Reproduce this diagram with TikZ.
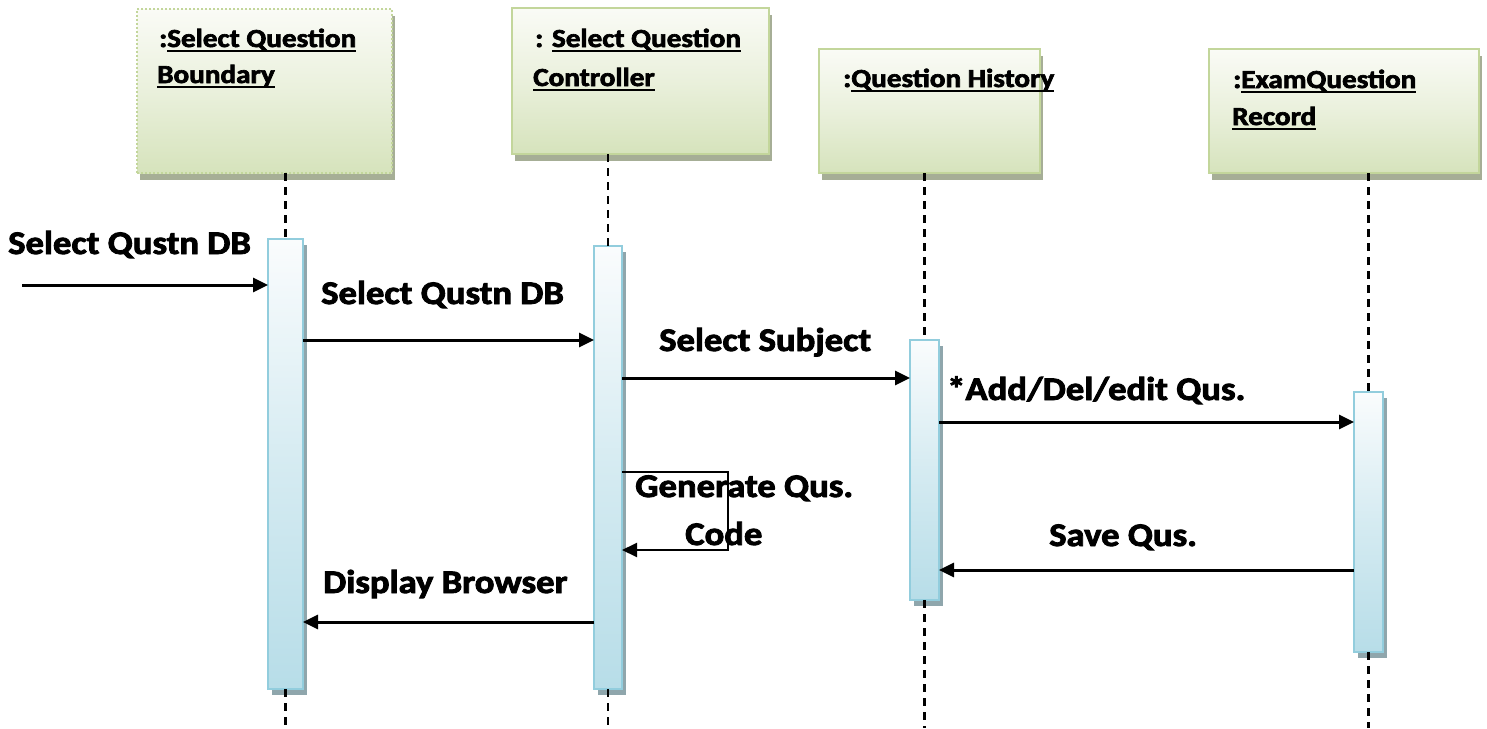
\documentclass[tikz,border=0pt]{standalone}
\usepackage{fontspec}
\setmainfont{Carlito}[BoldFeatures={FakeBold=2.5}]
\usetikzlibrary{arrows.meta,shadows}

% palette
\definecolor{hdrtop}{RGB}{250,251,246}
\definecolor{hdrbot}{RGB}{214,227,188}
\definecolor{hdrline}{RGB}{195,214,155}
\definecolor{hdrshade}{RGB}{166,174,150}
\definecolor{bartop}{RGB}{250,252,253}
\definecolor{barbot}{RGB}{183,221,232}
\definecolor{barline}{RGB}{146,205,221}
\definecolor{barshade}{RGB}{143,166,172}

% thick underline for object names
\newcommand\objul[1]{\setbox0\hbox{#1}\rlap{\rule[-5pt]{\wd0}{2.2pt}}\box0}

\tikzset{
  objbox/.style={rectangle, draw=hdrline, line width=2.5pt, anchor=north west,
    inner sep=0pt, outer sep=0pt,
    top color=hdrtop, bottom color=hdrbot, middle color=hdrtop!55!hdrbot,
    drop shadow={shadow xshift=3pt, shadow yshift=-7pt, fill=hdrshade, opacity=1}},
  actbar/.style={rectangle, draw=barline, line width=2.4pt, anchor=north west,
    inner sep=0pt, outer sep=0pt,
    top color=bartop, bottom color=barbot, middle color=bartop!45!barbot,
    drop shadow={shadow xshift=4pt, shadow yshift=-6pt, fill=barshade, opacity=1}},
  lifeline/.style={line width=2.6pt, dash pattern=on 8pt off 6pt},
  msg/.style={line width=3pt, -{Triangle[length=15pt,width=14pt]}},
  selfmsg/.style={line width=2pt, -{Triangle[length=15pt,width=14pt]}},
  lbl/.style={font=\fontsize{33}{40}\selectfont\bfseries, inner sep=0pt,
    anchor=base west, xscale=1.11},
  hdr/.style={font=\fontsize{26}{31}\selectfont\bfseries, inner sep=0pt,
    anchor=base west, xscale=1.12},
}

\begin{document}
\begin{tikzpicture}[x=1pt,y=-1pt]
\useasboundingbox (0,0) rectangle (1487,728);
\coordinate (floor) at (0,728);

% object headers
\node[objbox, dash pattern=on 2pt off 2pt, minimum width=255pt, minimum height=164pt] (b1) at (137,9) {};
\node[objbox, minimum width=257pt, minimum height=146pt] (b2) at (512,8) {};
\node[objbox, minimum width=221pt, minimum height=124pt] (b3) at (819,49) {};
\node[objbox, minimum width=270pt, minimum height=124pt] (b4) at (1209,49) {};

\node[hdr] (h1a) at (159,47) {:\objul{Select Question}};
\node[hdr] (h1b) at (157,83) {\objul{Boundary}};
\node[hdr] (h2a) at (535,47) {: \objul{Select Question}};
\node[hdr] (h2b) at (533,86) {\objul{Controller}};
\node[hdr] (h3a) at (843,87) {:\objul{Question History}};
\node[hdr] (h4a) at (1233,88) {:\objul{ExamQuestion}};
\node[hdr] (h4b) at (1232,125) {\objul{Record}};

% activation bars
\node[actbar, minimum width=35pt, minimum height=450pt] (a1) at (268,239) {};
\node[actbar, minimum width=28pt, minimum height=443pt] (a2) at (594,246) {};
\node[actbar, minimum width=29pt, minimum height=260pt] (a3) at (910,340) {};
\node[actbar, minimum width=29pt, minimum height=260pt] (a4) at (1354,392) {};

% lifelines
\draw[lifeline] (b1.south -| a1.north) -- (a1.north);
\draw[lifeline] (a1.south) -- (a1.south |- floor);
\draw[lifeline] (b2.south -| a2.north) -- (a2.north);
\draw[lifeline] (a2.south) -- (a2.south |- floor);
\draw[lifeline] (b3.south -| a3.north) -- (a3.north);
\draw[lifeline] (a3.south) -- (a3.south |- floor);
\draw[lifeline] (b4.south -| a4.north) -- (a4.north);
\draw[lifeline] (a4.south) -- (a4.south |- floor);

% messages
\coordinate (src) at (22,285);
\draw[msg] (src) -- (a1.west |- src);
\draw[msg] (a1.east |- 0,340) -- (a2.west |- 0,340);
\draw[msg] (a2.east |- 0,378) -- (a3.west |- 0,378);
\draw[msg] (a3.east |- 0,422) -- (a4.west |- 0,422);
\draw[selfmsg] (a2.east |- 0,472) -- (728,472) -- (728,550) -- (a2.east |- 0,550);
\draw[msg] (a4.west |- 0,570) -- (a3.east |- 0,570);
\draw[msg] (a2.west |- 0,622) -- (a1.east |- 0,622);

% message labels
\node[lbl] (m0) at (8,254) {Select Qustn DB};
\node[lbl] (m1) at (321,304) {Select Qustn DB};
\node[lbl] (m2) at (659,351) {Select Subject};
\node[lbl] (m3) at (947,400) {*Add/Del/edit Qus.};
\node[lbl] (m4a) at (635,497) {Generate Qus.};
\node[lbl] (m4b) at (685,545) {Code};
\node[lbl] (m5) at (1049,546) {Save Qus.};
\node[lbl] (m6) at (323,593) {Display Browser};
\end{tikzpicture}
\end{document}
